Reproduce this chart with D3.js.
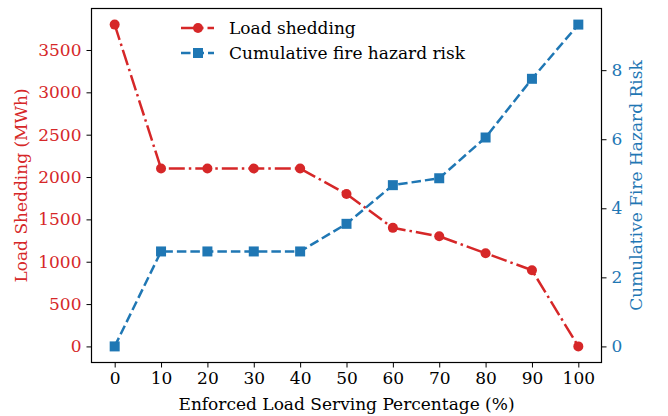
<!DOCTYPE html>
<html>
<head>
<meta charset="utf-8">
<script src="https://cdn.jsdelivr.net/npm/d3@7"></script>
<style>
  body { margin: 0; background: #fff; }
  svg text { font-family: "DejaVu Serif", serif; }
</style>
</head>
<body>
<script>
// data
const percent = [0, 10, 20, 30, 40, 50, 60, 70, 80, 90, 100];
const loadShedding = [3800, 2100, 2100, 2100, 2100, 1800, 1400, 1300, 1100, 900, 0];
const fireRisk = [0, 2.75, 2.75, 2.75, 2.75, 3.55, 4.67, 4.87, 6.05, 7.75, 9.32];
const leftTicks = [0, 500, 1000, 1500, 2000, 2500, 3000, 3500];
const rightTicks = [0, 2, 4, 6, 8];

const red = "#d62728", blue = "#1f77b4";
const w = 668, h = 416;
const m = {left: 91.5, right: 601.5, top: 8.5, bottom: 362.5};
const font = "DejaVu Serif";
const fs = "17px";

const svg = d3.select("body").append("svg")
  .attr("width", w).attr("height", h);

const x = d3.scaleLinear().domain([-5, 105]).range([m.left, m.right]);
const yL = d3.scaleLinear().domain([-190, 3990]).range([m.bottom, m.top]);
const yR = d3.scaleLinear().domain([-0.466, 9.786]).range([m.bottom, m.top]);

// axes
const xAxis = svg.append("g")
  .attr("transform", `translate(0,${m.bottom})`)
  .call(d3.axisBottom(x).tickValues(percent).tickSize(5).tickPadding(4));
xAxis.attr("font-family", font).attr("font-size", fs);
xAxis.selectAll("text").attr("fill", "#000");

const lAxis = svg.append("g")
  .attr("transform", `translate(${m.left},0)`)
  .call(d3.axisLeft(yL).tickValues(leftTicks).tickFormat(d3.format("d")).tickSize(5).tickPadding(5));
lAxis.attr("font-family", font).attr("font-size", fs);
lAxis.selectAll("text").attr("fill", red);

const rAxis = svg.append("g")
  .attr("transform", `translate(${m.right},0)`)
  .call(d3.axisRight(yR).tickValues(rightTicks).tickSize(5).tickPadding(5));
rAxis.attr("font-family", font).attr("font-size", fs);
rAxis.selectAll("text").attr("fill", blue);

svg.selectAll(".domain").remove();
svg.selectAll(".tick line").attr("stroke", "#000").attr("stroke-width", 1);

svg.append("rect")
  .attr("x", m.left).attr("y", m.top)
  .attr("width", m.right - m.left).attr("height", m.bottom - m.top)
  .attr("fill", "none").attr("stroke", "#000").attr("stroke-width", 1.2);

// axis titles
svg.append("text")
  .attr("x", (m.left + m.right) / 2).attr("y", 410)
  .attr("text-anchor", "middle").attr("font-size", fs)
  .text("Enforced Load Serving Percentage (%)");

svg.append("text")
  .attr("transform", `translate(27,${(m.top + m.bottom) / 2}) rotate(-90)`)
  .attr("text-anchor", "middle").attr("font-size", fs).attr("fill", red)
  .text("Load Shedding (MWh)");

svg.append("text")
  .attr("transform", `translate(642,${(m.top + m.bottom) / 2}) rotate(-90)`)
  .attr("text-anchor", "middle").attr("font-size", fs).attr("fill", blue)
  .text("Cumulative Fire Hazard Risk");

// lines
const loadLine = d3.line().x((d, i) => x(percent[i])).y(d => yL(d));
const riskLine = d3.line().x((d, i) => x(percent[i])).y(d => yR(d));

svg.append("path").datum(loadShedding)
  .attr("d", loadLine).attr("fill", "none")
  .attr("stroke", red).attr("stroke-width", 2.5)
  .attr("stroke-dasharray", "16,4,2.5,4");

svg.append("path").datum(fireRisk)
  .attr("d", riskLine).attr("fill", "none")
  .attr("stroke", blue).attr("stroke-width", 2.5)
  .attr("stroke-dasharray", "9.5,4");

svg.selectAll("circle.load").data(loadShedding).enter()
  .append("circle").attr("class", "load")
  .attr("cx", (d, i) => x(percent[i])).attr("cy", d => yL(d))
  .attr("r", 5).attr("fill", red);

svg.selectAll("rect.risk").data(fireRisk).enter()
  .append("rect").attr("class", "risk")
  .attr("x", (d, i) => x(percent[i]) - 5).attr("y", d => yR(d) - 5)
  .attr("width", 10).attr("height", 10).attr("fill", blue);

// legend
const legend = [
  {label: "Load shedding", color: red, dash: "16,4,2.5,4", mark: "circle"},
  {label: "Cumulative fire hazard risk", color: blue, dash: "9.5,4", mark: "square"}
];
const lg = svg.append("g").attr("transform", "translate(181,28)");
legend.forEach((d, i) => {
  const g = lg.append("g").attr("transform", `translate(0,${i * 25})`);
  g.append("line").attr("x1", 0).attr("x2", 33).attr("y1", 0).attr("y2", 0)
    .attr("stroke", d.color).attr("stroke-width", 2.5).attr("stroke-dasharray", d.dash);
  if (d.mark === "circle") {
    g.append("circle").attr("cx", 17).attr("cy", 0).attr("r", 5).attr("fill", d.color);
  } else {
    g.append("rect").attr("x", 12).attr("y", -5).attr("width", 10).attr("height", 10).attr("fill", d.color);
  }
  g.append("text").attr("x", 48).attr("y", 6).attr("font-size", fs).text(d.label);
});
</script>
</body>
</html>
